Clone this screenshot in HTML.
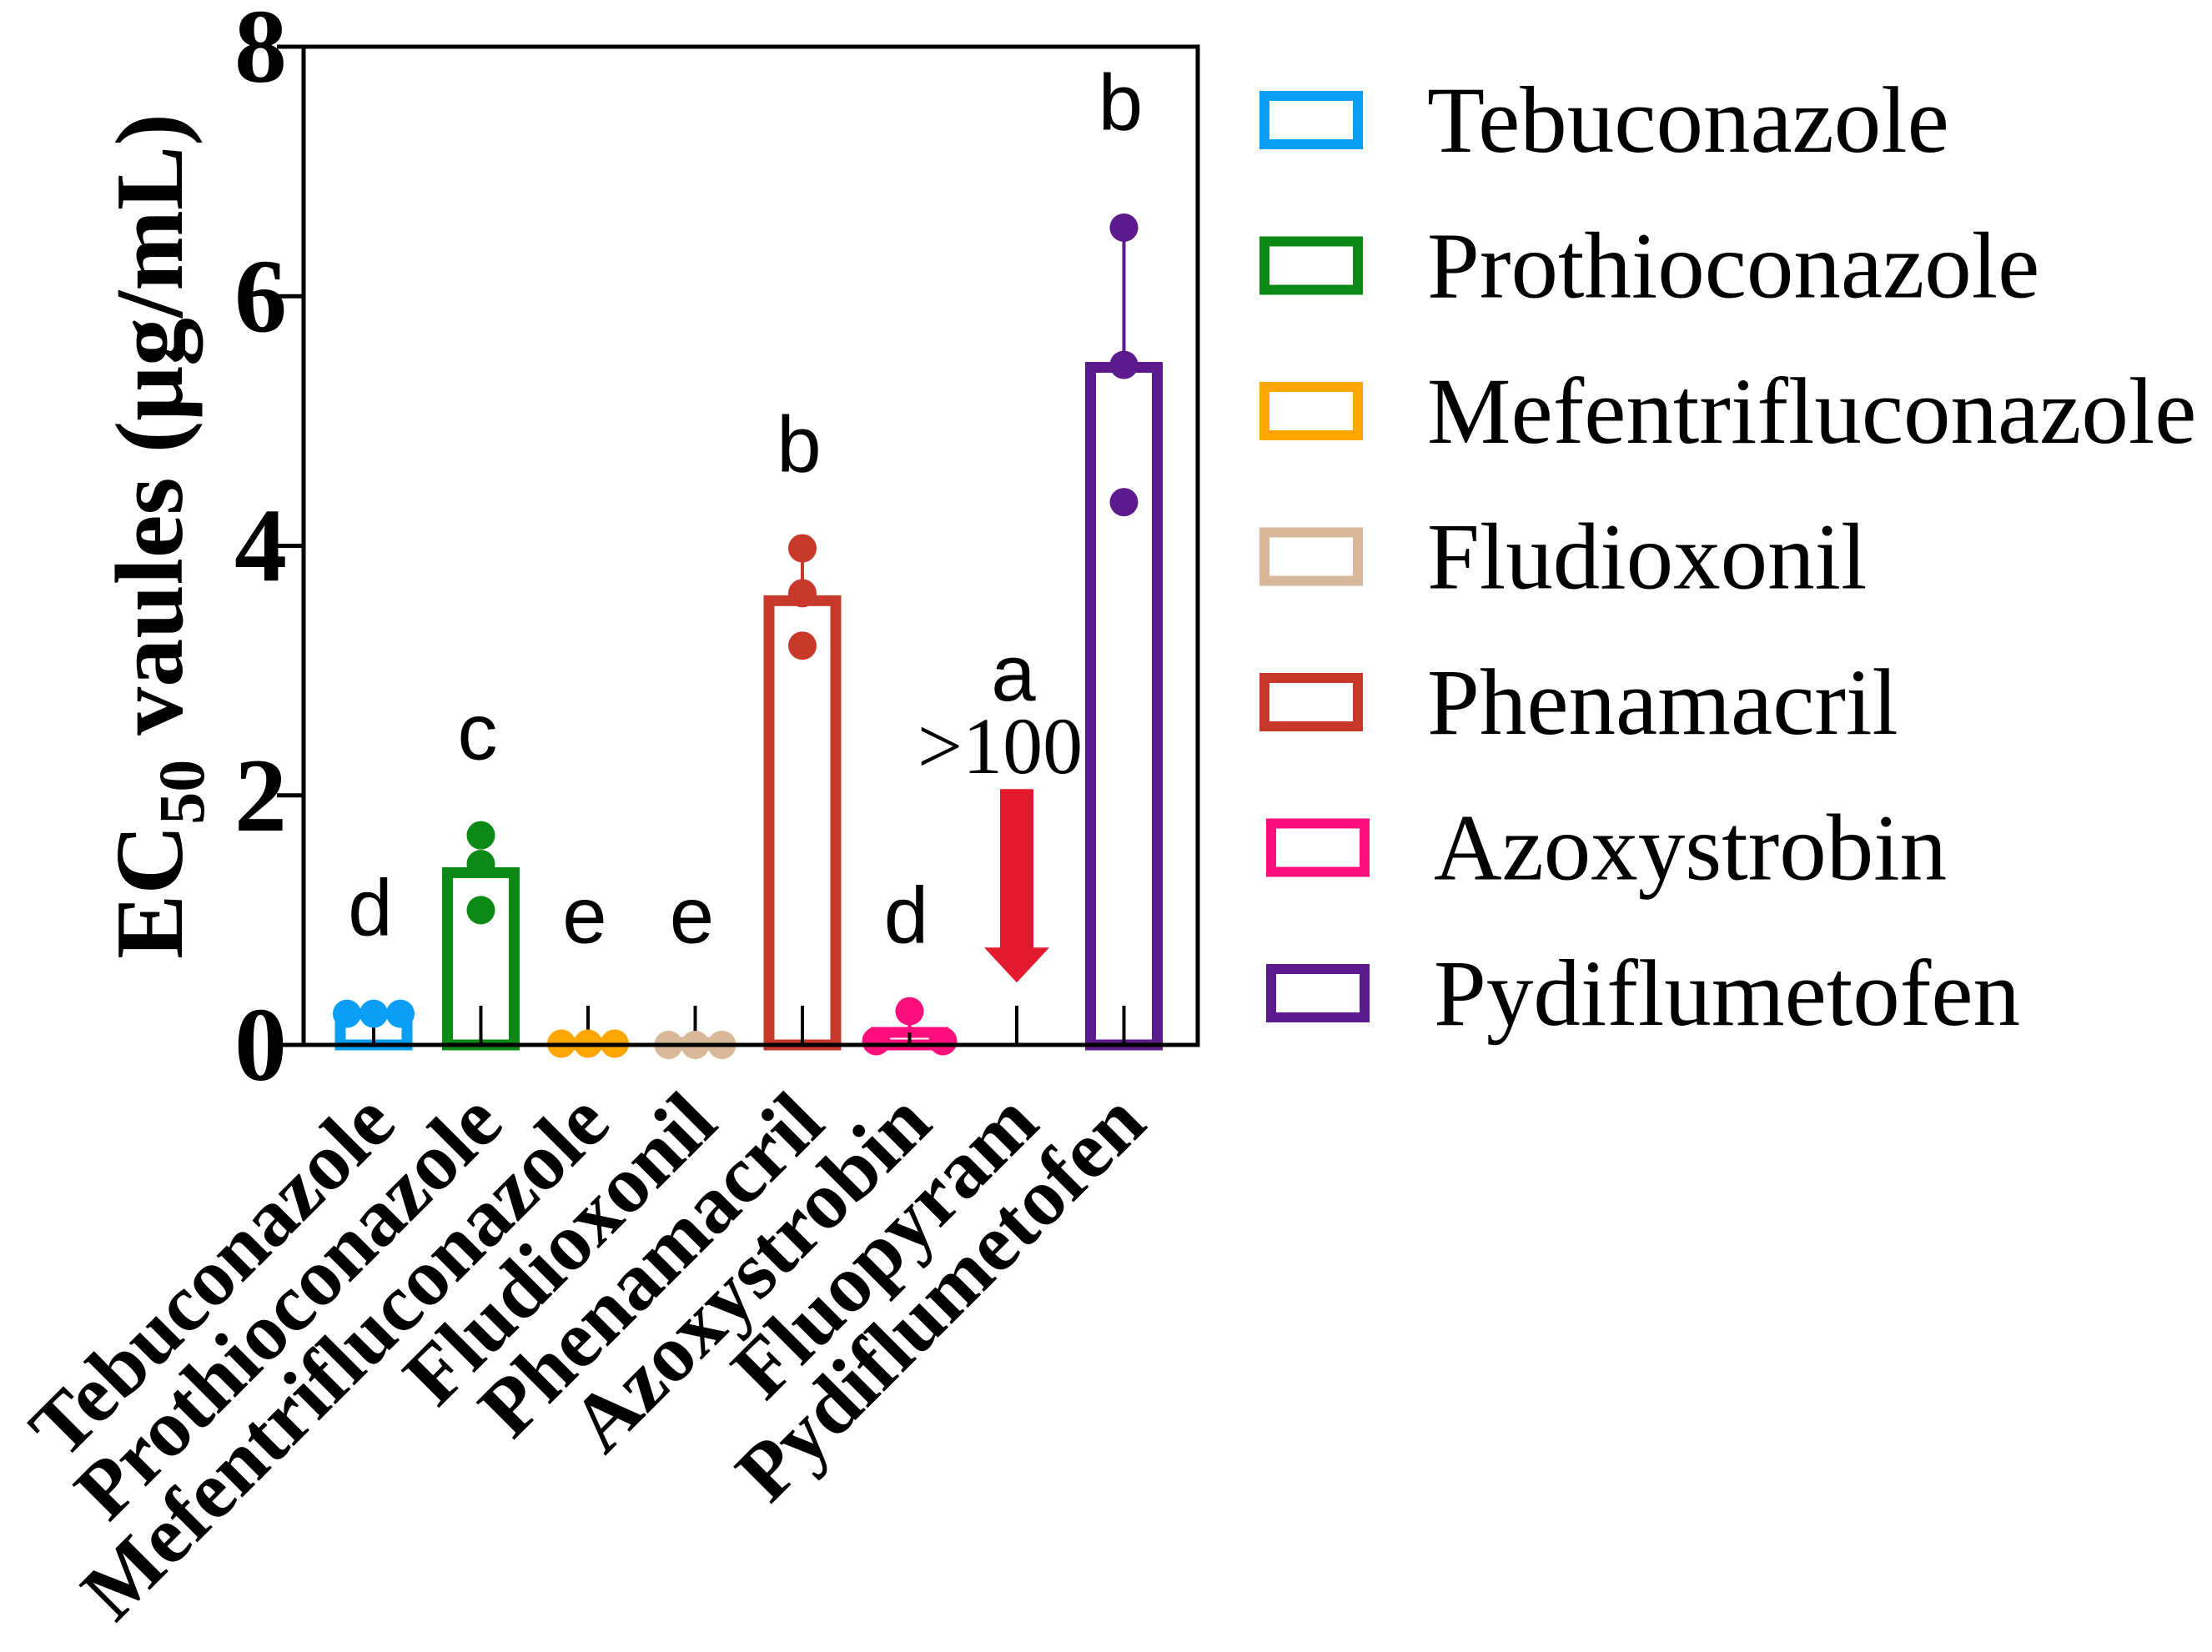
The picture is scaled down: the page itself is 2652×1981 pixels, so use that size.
<!DOCTYPE html>
<html><head><meta charset="utf-8"><style>
html,body{margin:0;padding:0;background:#fff;}
svg{display:block;}
text{font-family:"Liberation Serif",serif;}
</style></head><body>
<svg id="chart" width="2652" height="1981" viewBox="0 0 2652 1981" xmlns="http://www.w3.org/2000/svg">
<g id="plot"></g>
<g id="legend"></g>
</svg>
<script>
const categories = ["Tebuconazole","Prothioconazole","Mefentrifluconazole","Fludioxonil","Phenamacril","Azoxystrobin","Fluopyram","Pydiflumetofen"];
const colors = ["#0a9ef5","#0a8a14","#ffa500","#d8b898","#c8392b","#ff0f7b","#000000","#5c1a8c"];
const means = [0.25, 1.38, 0.02, 0.02, 3.56, 0.1, null, 5.43];
const points = [[0.25,0.25,0.25],[1.68,1.45,1.08],[0.01,0.01,0.01],[0.0,0.0,0.0],[3.98,3.62,3.2],[0.27,0.03,0.03],[],[6.55,5.45,4.35]];
const errUpper = [null,null,null,null,3.98,0.27,null,6.55];
const letters = ["d","c","e","e","b","d","a","b"];
const letterY = [0.88,2.29,0.82,0.82,4.59,0.82,2.76,7.33];
const yTicks = [0,2,4,6,8];
const legendNames = ["Tebuconazole","Prothioconazole","Mefentrifluconazole","Fludioxonil","Phenamacril","Azoxystrobin","Pydiflumetofen"];
const legendColors = ["#0a9ef5","#0a8a14","#ffa500","#d8b898","#c8392b","#ff0f7b","#5c1a8c"];

const NS="http://www.w3.org/2000/svg";
const L=364,R=1436,T=56,B=1253;
const y=v=>B-v*(B-T)/8;
const x=i=>448+i*128.5;
const plot=document.getElementById('plot');
const leg=document.getElementById('legend');
function mk(tag,attrs,parent,txt){const e=document.createElementNS(NS,tag);for(const k in attrs)e.setAttribute(k,attrs[k]);if(txt!==undefined)e.textContent=txt;parent.appendChild(e);return e;}

categories.forEach((c,i)=>{
  if(means[i]!==null){
    const h=Math.max(B-y(means[i]),0);
    const bar=mk('rect',{x:x(i)-40,y:y(means[i]),width:80,height:h,fill:'none',stroke:colors[i],'stroke-width':13},plot);
    
    
  }
  const tk=mk('line',{x1:x(i),x2:x(i),y1:B,y2:B-47,stroke:'#000','stroke-width':4},plot);
  
  
  if(errUpper[i]!==null){
    const eb=mk('line',{x1:x(i),x2:x(i),y1:y(means[i]),y2:y(errUpper[i]),stroke:colors[i],'stroke-width':4},plot);
    
    
    const cap=mk('line',{x1:x(i)-17,x2:x(i)+17,y1:y(errUpper[i]),y2:y(errUpper[i]),stroke:colors[i],'stroke-width':4},plot);
    
    
  }
  points[i].forEach((p,j)=>{
    let dx=0;
    const allSame=points[i].every(q=>Math.abs(q-points[i][0])<0.05);
    if(allSame) dx=(j-1)*32; else if(i===5) dx=j===0?0:(j===1?-40:40);
    const d=mk('circle',{cx:x(i)+dx,cy:y(p),r:17,fill:colors[i]},plot);
    
    
  });
  const lt=mk('text',{x:x(i)-4,y:y(letterY[i]),'text-anchor':'middle','font-size':96,style:'font-family:"Liberation Sans",sans-serif'},plot,letters[i]);
  
  
  const xl=mk('text',{x:0,y:0,'text-anchor':'end','font-size':98,'font-weight':'bold',transform:`translate(${x(i)+30},${B+98}) rotate(-45)`},plot,c);
  
  
});

const fi=6;
const arr=mk('polygon',{points:`${x(fi)-20},${y(2.05)} ${x(fi)+20},${y(2.05)} ${x(fi)+20},${y(0.78)} ${x(fi)+39},${y(0.78)} ${x(fi)},${y(0.5)} ${x(fi)-39},${y(0.78)} ${x(fi)-20},${y(0.78)}`,fill:'#e3192f'},plot);


const gt=mk('text',{x:x(fi)-20,y:y(2.18),'text-anchor':'middle','font-size':96},plot,'>100');



const fr=mk('rect',{x:L,y:T,width:R-L,height:B-T,fill:'none',stroke:'#000','stroke-width':5},plot);



yTicks.forEach(t=>{
  const tl=mk('line',{x1:L-32,x2:L,y1:y(t),y2:y(t),stroke:'#000','stroke-width':5},plot);
  
  
  const tt=mk('text',{x:L-20,y:y(t)+42,'text-anchor':'end','font-size':126,'font-weight':'bold'},plot,String(t));
  
  
});
const yt=mk('text',{x:0,y:0,'text-anchor':'middle','font-size':116,'font-weight':'bold',transform:'translate(218,643) rotate(-90)'},plot);


mk('tspan',{},yt,'EC');
mk('tspan',{'font-size':78,dy:26},yt,'50');
mk('tspan',{dy:-26},yt,' vaules (μg/mL)');

legendNames.forEach((n,i)=>{
  const cy=144+i*174.5;
  const off=i>=5?8:0;
  const bx=mk('rect',{x:1516+off,y:cy-29,width:112,height:58,fill:'none',stroke:legendColors[i],'stroke-width':12},leg);
  
  
  const tx=mk('text',{x:1711+off,y:cy+38,'font-size':113},leg,n);
  
  
});
</script>
</body></html>
